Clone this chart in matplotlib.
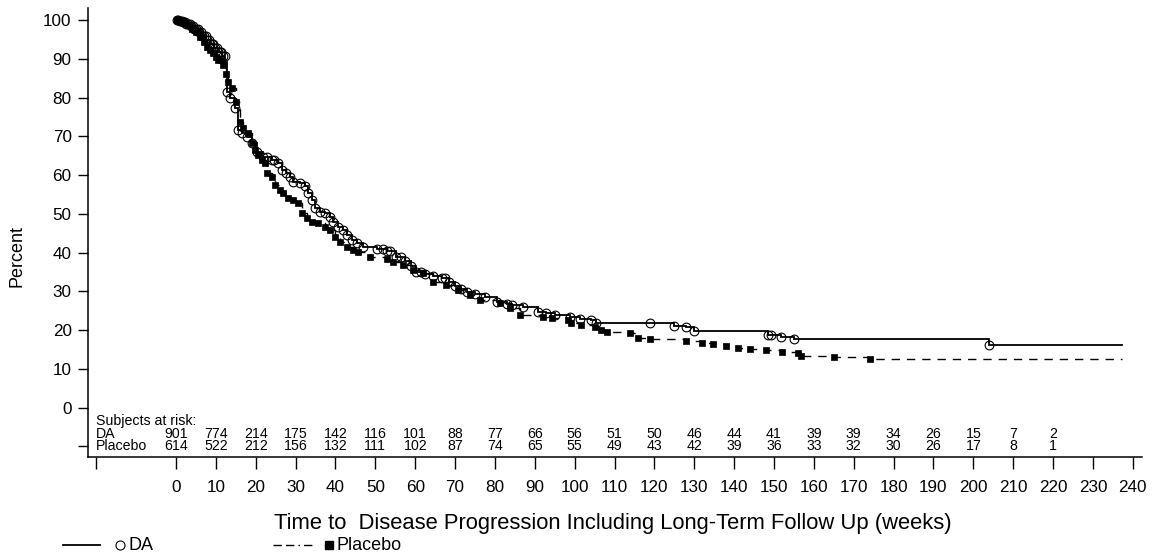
import numpy as np
import matplotlib
matplotlib.use("Agg")
import matplotlib.pyplot as plt
from matplotlib.lines import Line2D

plt.rcParams['font.family'] = ['Liberation Sans', 'DejaVu Sans']

# ---------------- data ----------------
# DA Kaplan-Meier step curve (weeks, percent)
da_t = [0, 0.8, 1.5, 2.5, 3.5, 4.5, 5.5, 6.5, 7.5, 8.5, 9.5, 10.5, 11.5, 12.3, 12.9,
        13.5, 14.8, 15.6, 16.5, 17.7, 19.0, 20.2, 21.9, 24.0, 25.6, 26.5, 27.7, 28.6,
        29.4, 31.0, 32.3, 33.2, 34.0, 34.8, 36.1, 37.3, 38.6, 39.4, 40.7, 41.9, 42.8,
        44.1, 45.3, 47.0, 50.5, 52.8, 55.3, 57.5, 59.0, 60.3, 62.5, 64.5, 66.6, 68.5,
        70.0, 71.5, 73.0, 75.0, 77.4, 80.4, 82.9, 84.2, 87.1, 90.9, 92.9, 95.0, 98.7,
        101.3, 104.2, 105.4, 119.0, 125.0, 128.0, 130.0, 148.5, 151.8, 155.0, 204.0, 237.3]
da_s = [100, 99.7, 99.4, 99.0, 98.4, 97.6, 96.8, 95.8, 94.8, 93.8, 92.8, 91.8, 90.6, 89.2, 81.5,
        79.8, 77.2, 71.6, 70.8, 69.9, 68.2, 66.0, 64.7, 63.9, 63.0, 61.3, 60.5, 59.6,
        58.3, 57.9, 57.2, 55.3, 53.6, 51.4, 50.6, 50.1, 49.3, 48.0, 46.7, 45.8, 44.5,
        43.3, 42.4, 41.5, 41.0, 40.5, 38.9, 37.8, 36.5, 35.0, 34.4, 33.9, 33.5, 32.3,
        31.3, 30.5, 29.8, 29.2, 28.6, 27.3, 26.7, 26.4, 25.9, 24.8, 24.3, 23.9, 23.5,
        23.0, 22.6, 21.9, 21.8, 21.1, 20.7, 19.9, 18.8, 18.2, 17.8, 16.3, 16.3]
# DA censoring marks (weeks)
da_cens = [0.3, 0.6, 1.0, 1.4, 1.8, 2.2, 2.6, 3.0, 3.4, 3.8, 4.2, 4.6, 5.0, 5.4, 5.8, 6.2, 6.6,
           7.0, 7.4, 7.8, 8.2, 8.6, 9.0, 9.4, 9.8, 10.2, 10.6, 11.0, 11.4, 11.8, 12.2, 12.9,
           13.5, 14.8, 15.6, 16.5, 17.7, 19.0, 20.2, 21.9, 22.8, 24.0, 24.7, 25.6, 26.5,
           27.7, 28.6, 29.4, 31.0, 32.3, 33.2, 34.0, 34.8, 36.1, 37.3, 38.6, 39.4, 40.7,
           41.9, 42.8, 44.1, 45.3, 47.0, 50.5, 51.8, 52.8, 53.8, 55.3, 56.5, 57.5, 59.0,
           60.3, 61.5, 62.5, 64.5, 66.6, 67.5, 68.5, 70.0, 71.5, 73.0, 75.0, 77.4, 80.4,
           82.9, 84.2, 87.1, 90.9, 92.9, 95.0, 98.7, 101.3, 104.2, 105.4, 119.0, 125.0,
           128.0, 130.0, 148.5, 149.2, 151.8, 155.0, 204.0]

# Placebo Kaplan-Meier step curve
pl_t = [0, 1.0, 2.0, 3.0, 4.0, 5.0, 6.0, 7.0, 7.7, 8.5, 9.3, 10.0, 10.6, 11.9, 12.6,
        13.1, 14.0, 15.0, 16.0, 16.9, 18.1, 19.0, 19.8, 20.6, 21.5, 22.3, 22.7, 24.0,
        24.8, 26.0, 26.9, 28.2, 29.4, 30.7, 31.5, 32.8, 34.0, 35.7, 37.3, 38.6, 39.8,
        41.1, 42.8, 44.4, 45.7, 48.6, 52.8, 54.5, 57.0, 59.5, 62.0, 64.5, 67.8, 70.8,
        73.7, 76.2, 81.2, 83.7, 86.2, 92.1, 94.2, 98.3, 99.2, 101.7, 105.0, 106.7, 108.0,
        113.8, 115.9, 118.8, 128.0, 132.0, 134.8, 138.0, 140.9, 143.9, 148.0, 152.0,
        156.0, 156.8, 165.0, 174.0, 237.3]
pl_s = [100, 99.7, 99.2, 98.6, 97.8, 96.8, 95.7, 94.4, 93.1, 92.2, 91.4, 90.4, 89.7, 88.4, 86.0,
        84.1, 82.4, 78.9, 73.8, 72.1, 70.8, 68.2, 66.5, 65.2, 64.0, 63.0, 60.5, 59.6,
        57.4, 56.2, 55.3, 54.0, 53.6, 52.7, 50.1, 48.9, 48.0, 47.6, 46.7, 45.8, 44.1,
        42.8, 41.5, 40.7, 40.2, 38.9, 38.3, 37.7, 36.8, 35.5, 34.7, 32.5, 31.6, 30.4,
        29.1, 27.8, 26.9, 25.6, 23.9, 23.5, 23.1, 22.6, 21.8, 21.3, 20.9, 20.0, 19.6,
        19.2, 17.9, 17.6, 17.2, 16.8, 16.4, 15.9, 15.5, 15.1, 14.8, 14.4,
        14.0, 13.3, 13.0, 12.6, 12.6]
pl_cens = [0.3, 0.7, 1.0, 1.5, 2.0, 2.5, 3.0, 3.5, 4.0, 4.5, 5.0, 5.5, 6.0, 6.5, 7.0, 7.7,
           8.5, 9.3, 10.0, 10.6, 11.3, 11.9, 12.6, 13.1, 14.0, 15.0, 16.0, 16.9, 18.1,
           19.0, 19.8, 20.6, 21.5, 22.3, 22.7, 24.0, 24.8, 26.0, 26.9, 28.2, 29.4, 30.7,
           31.5, 32.8, 34.0, 35.7, 37.3, 38.6, 39.8, 41.1, 42.8, 44.4, 45.7, 48.6, 52.8,
           54.5, 57.0, 59.5, 62.0, 64.5, 67.8, 70.8, 73.7, 76.2, 81.2, 83.7, 86.2, 92.1,
           94.2, 98.3, 99.2, 101.7, 105.0, 106.7, 108.0, 113.8, 115.9, 118.8, 128.0,
           132.0, 134.8, 138.0, 140.9, 143.9, 148.0, 152.0, 156.0, 156.8, 165.0, 174.0]

# at-risk table
risk_times = [0, 10, 20, 30, 40, 50, 60, 70, 80, 90, 100, 110, 120, 130, 140, 150, 160,
              170, 180, 190, 200, 210, 220]
risk_da = [901, 774, 214, 175, 142, 116, 101, 88, 77, 66, 56, 51, 50, 46, 44, 41, 39, 39,
           34, 26, 15, 7, 2]
risk_pl = [614, 522, 212, 156, 132, 111, 102, 87, 74, 65, 55, 49, 43, 42, 39, 36, 33, 32,
           30, 26, 17, 8, 1]

x_ticks = list(range(0, 250, 10))
y_ticks = list(range(0, 110, 10))

# ---------------- figure ----------------
W, H = 1155, 559
fig = plt.figure(figsize=(W / 100, H / 100), dpi=100)
ax = fig.add_axes([88.3 / W, 1 - 456.7 / H, (1142 - 88.3) / W, (456.7 - 8) / H])

def step_value(t, s, x):
    i = np.searchsorted(np.asarray(t), np.asarray(x), side='right') - 1
    return np.asarray(s)[i]

# DA
ax.step(da_t, da_s, where='post', color='black', lw=1.3, solid_joinstyle='miter')
ax.plot(da_cens, step_value(da_t, da_s, da_cens), ls='none', marker='o', ms=6.3,
        mfc='none', mec='black', mew=0.8)
# Placebo
ax.step(pl_t, pl_s, where='post', color='black', lw=1.0, linestyle=(0, (6, 5)))
ax.plot(pl_cens, step_value(pl_t, pl_s, pl_cens), ls='none', marker='s', ms=5,
        mfc='black', mec='black', mew=0.5)

ax.set_xlim(-22.0, 242.3)
ax.set_ylim(-12.64, 103.1)
for sp in ['top', 'right']:
    ax.spines[sp].set_visible(False)
for sp in ['left', 'bottom']:
    ax.spines[sp].set_linewidth(1.1)

ax.set_yticks([-10] + y_ticks)
ax.set_yticklabels([''] + [str(v) for v in y_ticks], fontsize=12.3)
ax.set_xticks([-20] + x_ticks)
ax.set_xticklabels([''] + [str(v) for v in x_ticks], fontsize=12.3)
ax.tick_params(axis='y', direction='out', length=7, width=1, pad=5)
ax.tick_params(axis='x', direction='out', length=8.5, width=1, pad=8.5)
ax.yaxis.get_major_ticks()[0].tick1line.set_color('0.65')
ax.xaxis.get_major_ticks()[0].tick1line.set_color('0.65')

# at-risk table
fs_r = 10.2
ax.text(-20, -3.4, 'Subjects at risk:', fontsize=fs_r, ha='left', va='center')
ax.text(-20, -6.7, 'DA', fontsize=fs_r, ha='left', va='center')
ax.text(-20, -9.8, 'Placebo', fontsize=fs_r, ha='left', va='center')
for tt, a, b in zip(risk_times, risk_da, risk_pl):
    ax.text(tt, -6.7, str(a), fontsize=fs_r, ha='center', va='center')
    ax.text(tt, -9.8, str(b), fontsize=fs_r, ha='center', va='center')

# axis labels
fig.text(17 / W, 1 - 256 / H, 'Percent', rotation=90, fontsize=13, ha='center', va='center')
fig.text(613 / W, 1 - 524 / H, 'Time to  Disease Progression Including Long-Term Follow Up (weeks)',
         fontsize=15.8, ha='center', va='center')

# legend (manual, SAS-style)
ly = 1 - 545 / H
fig.add_artist(Line2D([63 / W, 100 / W], [ly, ly], color='black', lw=1.3))
fig.add_artist(Line2D([120 / W], [ly], marker='o', ms=6.5, mfc='none', mec='black', mew=0.8))
fig.text(128 / W, ly, 'DA', fontsize=13, ha='left', va='center')
fig.add_artist(Line2D([273 / W, 312 / W], [ly, ly], color='black', lw=1.0,
                      linestyle=(0, (6, 3, 6, 3, 1, 3))))
fig.add_artist(Line2D([329 / W], [ly], marker='s', ms=5.5, mfc='black', mec='black'))
fig.text(337 / W, ly, 'Placebo', fontsize=13, ha='left', va='center')

fig.savefig('out.png', dpi=100)
